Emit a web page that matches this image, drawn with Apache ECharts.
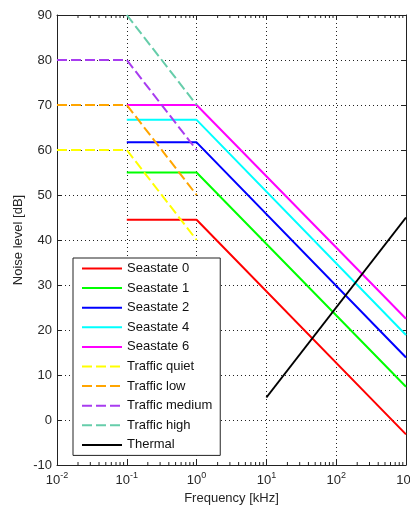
<!DOCTYPE html>
<html><head><meta charset="utf-8">
<script src="https://cdn.jsdelivr.net/npm/echarts@6/dist/echarts.min.js"></script>
<style>html,body{margin:0;padding:0;background:#fff}#c{width:410px;height:507px}</style>
</head><body><div id="c"></div>
<script>
// Data (frequency in kHz, noise level in dB)
var seastate0 = [[0.1, 44.5], [1, 44.5], [1000, -3.2]];
var seastate1 = [[0.1, 55], [1, 55], [1000, 7.4]];
var seastate2 = [[0.1, 61.7], [1, 61.7], [1000, 13.9]];
var seastate4 = [[0.1, 66.7], [1, 66.7], [1000, 18.9]];
var seastate6 = [[0.1, 70], [1, 70], [1000, 22.5]];
var trafficQuiet = [[0.01, 60], [0.1, 60], [1, 40]];
var trafficLow = [[0.01, 70], [0.1, 70], [1, 50]];
var trafficMedium = [[0.01, 80], [0.1, 80], [1, 60]];
var trafficHigh = [[0.1, 90], [1, 70]];
var thermal = [[10, 5], [1000, 45]];

var seriesNames = ['Seastate 0','Seastate 1','Seastate 2','Seastate 4','Seastate 6','Traffic quiet','Traffic low','Traffic medium','Traffic high','Thermal'];
var xMin = 0.01, xMax = 1000, yMin = -10, yMax = 90;

// minor tick positions (2..9 within each decade)
var minorTicks = [];
[0.01, 0.1, 1, 10, 100].forEach(function (d) {
  for (var k = 2; k <= 9; k++) minorTicks.push([d * k]);
});

var font = 'Liberation Sans, Arial, sans-serif';
var txtColor = '#262626';
function logLabel(v) {
  var e = Math.round(Math.log10(v));
  return '{b|10}{s|' + e + '}';
}
var richLbl = {
  b: {fontSize: 13, fontFamily: font, color: txtColor, verticalAlign: 'bottom', lineHeight: 16},
  s: {fontSize: 9, fontFamily: font, color: txtColor, verticalAlign: 'top', lineHeight: 16, padding: [0, 0, 6, 0]}
};

function mk(name, data, color, dashed) {
  return {
    name: name, type: 'line', data: data, symbol: 'none', silent: true, animation: false,
    lineStyle: {color: color, width: 2, type: dashed ? [10, 4] : 'solid'},
    itemStyle: {color: color}, z: 3
  };
}

var chart = echarts.init(document.getElementById('c'));
chart.setOption({
  animation: false,
  backgroundColor: '#fff',
  textStyle: {fontFamily: font},
  grid: {left: 57, top: 15, right: 4, bottom: 42, containLabel: false, outerBoundsMode: 'none'},
  xAxis: [{
    type: 'log', logBase: 10, min: xMin, max: xMax,
    name: 'Frequency [kHz]', nameLocation: 'middle', nameGap: 27,
    nameTextStyle: {fontSize: 13, color: txtColor, fontFamily: font},
    axisLine: {onZero: false, lineStyle: {color: '#222', width: 1}},
    axisTick: {inside: true, length: 5, lineStyle: {color: '#222'}},
    axisLabel: {formatter: logLabel, rich: richLbl, margin: 6, showMaxLabel: true, hideOverlap: false},
    splitLine: {show: true, lineStyle: {color: '#222', type: [1, 3], width: 1}}
  }, {
    type: 'log', logBase: 10, min: xMin, max: xMax, position: 'top',
    axisLine: {onZero: false, lineStyle: {color: '#222', width: 1}},
    axisTick: {inside: true, length: 5, lineStyle: {color: '#222'}},
    axisLabel: {show: false}, splitLine: {show: false}
  }],
  yAxis: [{
    type: 'value', min: yMin, max: yMax, interval: 10,
    name: 'Noise level [dB]', nameLocation: 'middle', nameGap: 32, nameMoveOverlap: false,
    nameTextStyle: {fontSize: 13, color: txtColor, fontFamily: font},
    axisLine: {show: true, onZero: false, lineStyle: {color: '#222', width: 1}},
    axisTick: {show: true, inside: true, length: 5, lineStyle: {color: '#222'}},
    axisLabel: {fontSize: 13, color: txtColor, margin: 5, fontFamily: font},
    splitLine: {show: true, lineStyle: {color: '#222', type: [1, 3], width: 1}}
  }, {
    type: 'value', min: yMin, max: yMax, interval: 10, position: 'right',
    axisLine: {show: true, onZero: false, lineStyle: {color: '#222', width: 1}},
    axisTick: {show: true, inside: true, length: 5, lineStyle: {color: '#222'}},
    axisLabel: {show: false}, splitLine: {show: false}
  }],
  legend: {
    orient: 'vertical', left: 73, top: 258,
    data: seriesNames,
    itemStyle: {opacity: 0},
    backgroundColor: '#fff', borderColor: '#222', borderWidth: 1,
    padding: [4, 8, 4, 8], itemWidth: 40, itemHeight: 14, itemGap: 6.6,
    textStyle: {fontSize: 13, color: '#111', fontFamily: font},
    selectedMode: false
  },
  series: [
    mk('Seastate 0', seastate0, '#ff0000'),
    mk('Seastate 1', seastate1, '#00ff00'),
    mk('Seastate 2', seastate2, '#0000ff'),
    mk('Seastate 4', seastate4, '#00ffff'),
    mk('Seastate 6', seastate6, '#ff00ff'),
    mk('Traffic quiet', trafficQuiet, '#ffff00', true),
    mk('Traffic low', trafficLow, '#ffa500', true),
    mk('Traffic medium', trafficMedium, '#a83cf0', true),
    mk('Traffic high', trafficHigh, '#66cdaa', true),
    mk('Thermal', thermal, '#000000'),
    {
      type: 'custom', silent: true, clip: false, z: 1,
      data: minorTicks,
      encode: {x: 0},
      renderItem: function (params, api) {
        var b = api.coord([api.value(0), yMin]);
        var t = api.coord([api.value(0), yMax]);
        var st = {stroke: '#222', lineWidth: 1};
        return {type: 'group', children: [
          {type: 'line', shape: {x1: b[0], y1: b[1], x2: b[0], y2: b[1] - 3}, style: st},
          {type: 'line', shape: {x1: t[0], y1: t[1], x2: t[0], y2: t[1] + 3}, style: st}
        ]};
      }
    }
  ]
});
</script>
</body></html>
